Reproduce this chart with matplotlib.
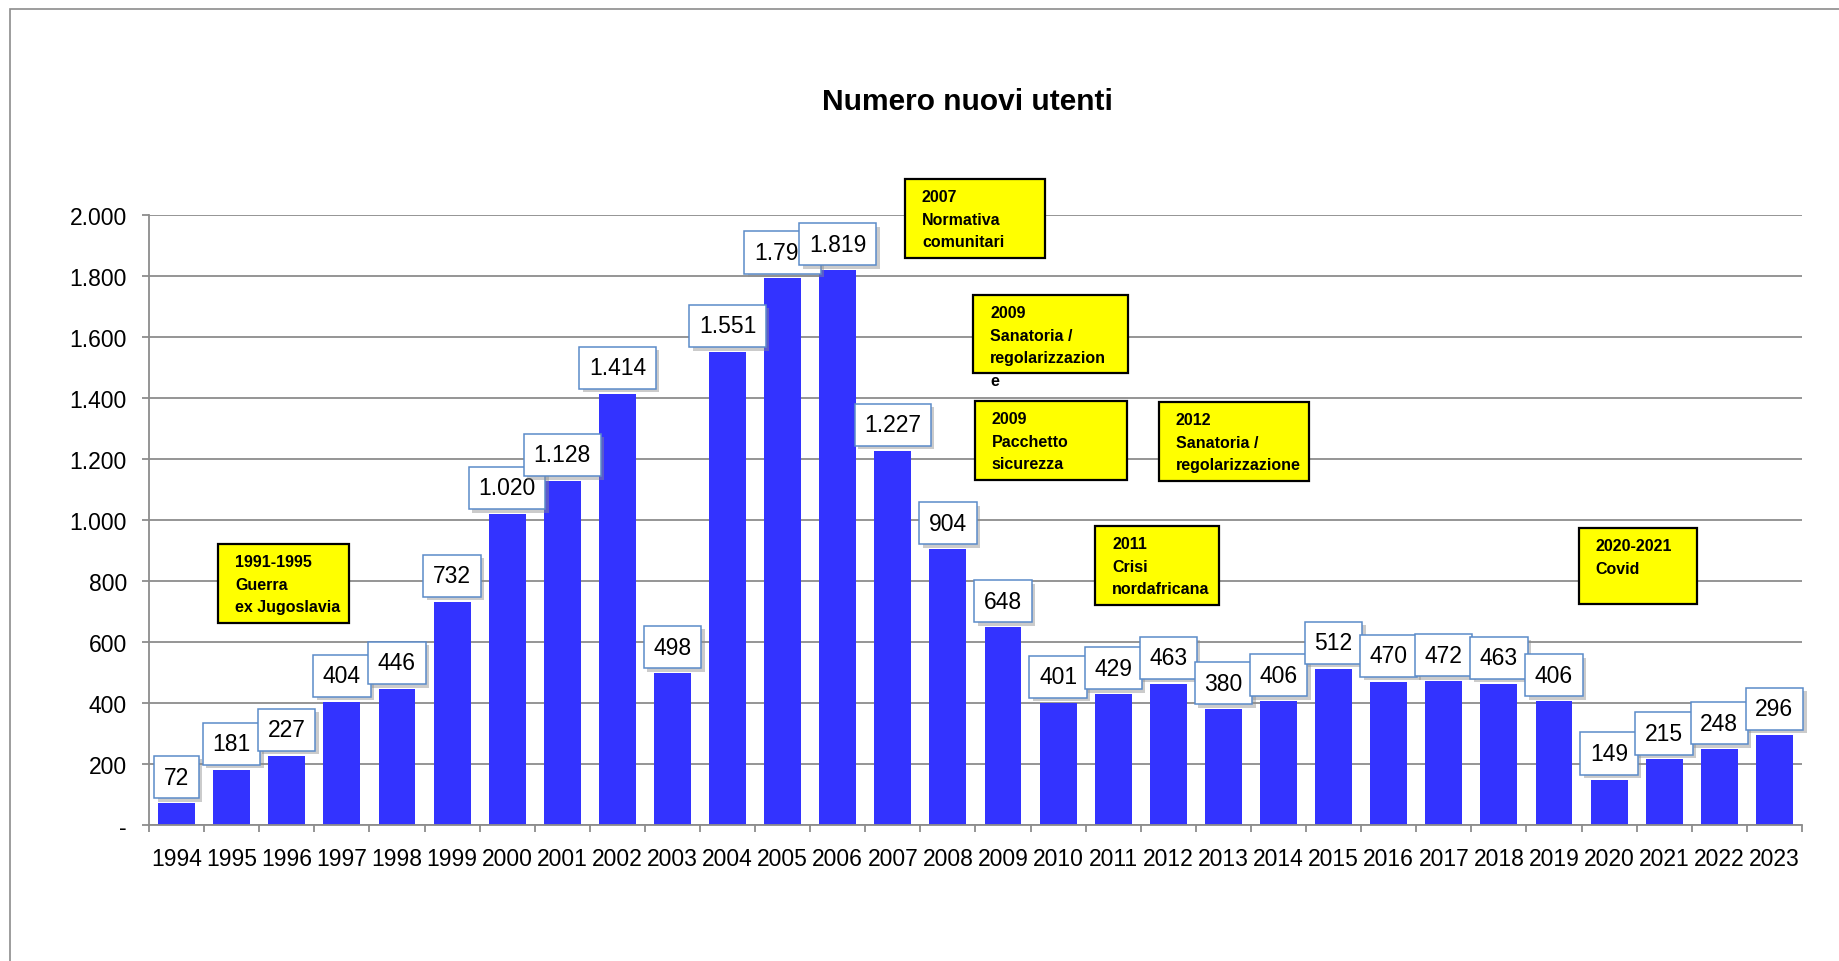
import matplotlib
matplotlib.use('Agg')
import matplotlib.pyplot as plt
import matplotlib.patheffects as pe
from matplotlib import font_manager
from matplotlib.patches import Rectangle
from matplotlib.ticker import FuncFormatter, FixedLocator

# data
anni = [1994, 1995, 1996, 1997, 1998, 1999, 2000, 2001, 2002, 2003,
        2004, 2005, 2006, 2007, 2008, 2009, 2010, 2011, 2012, 2013,
        2014, 2015, 2016, 2017, 2018, 2019, 2020, 2021, 2022, 2023]
nuovi_utenti = [72, 181, 227, 404, 446, 732, 1020, 1128, 1414, 498,
                1551, 1792, 1819, 1227, 904, 648, 401, 429, 463, 380,
                406, 512, 470, 472, 463, 406, 149, 215, 248, 296]

# note boxes: text, (x0, x1) in bar positions, (y bottom, y top) in values
note_testi = ["1991-1995\nGuerra\nex Jugoslavia",
              "2007\nNormativa\ncomunitari",
              "2009\nSanatoria /\nregolarizzazion\ne",
              "2009\nPacchetto\nsicurezza",
              "2011\nCrisi\nnordafricana",
              "2012\nSanatoria /\nregolarizzazione",
              "2020-2021\nCovid"]
note_x = [(0.75, 3.13), (13.22, 15.76), (14.46, 17.27), (14.49, 17.25),
          (16.67, 18.92), (17.83, 20.55), (25.45, 27.59)]
note_y = [(662, 921), (1859, 2118), (1482, 1738), (1131, 1390),
          (721, 980), (1128, 1387), (725, 974)]

names = {f.name for f in font_manager.fontManager.ttflist}
if 'Liberation Sans Narrow' in names:
    note_font, note_size, note_ls = 'Liberation Sans Narrow', 13.5, 1.35
else:
    note_font, note_size, note_ls = 'Liberation Sans', 11.5, 1.63

plt.rcParams['font.family'] = ['Liberation Sans', 'DejaVu Sans']

fig = plt.figure(figsize=(18.4, 9.62), dpi=100)
ax = fig.add_axes([0.081, 0.1414, 0.8983, 0.634])

x = list(range(len(anni)))
ax.bar(x, nuovi_utenti, width=0.67, color='#3333FF', zorder=2)

ax.set_xlim(-0.5, len(anni) - 0.5)
ax.set_ylim(0, 2000)
ax.set_yticks(range(0, 2001, 200))
ax.yaxis.set_major_formatter(FuncFormatter(
    lambda v, p: '-' if v == 0 else f"{int(v):,}".replace(',', '.')))
ax.set_xticks(x)
ax.set_xticklabels([str(a) for a in anni])
ax.xaxis.set_minor_locator(FixedLocator([i - 0.5 for i in range(len(anni) + 1)]))

grigio = '#8C8C8C'
ax.grid(axis='y', color=grigio, linewidth=1.3, zorder=0)
ax.set_axisbelow(True)
for s in ['top', 'right']:
    ax.spines[s].set_visible(False)
for s in ['left', 'bottom']:
    ax.spines[s].set_color(grigio)
    ax.spines[s].set_linewidth(1.3)
ax.tick_params(axis='y', length=5, width=1.3, color=grigio, labelsize=16.5, pad=11)
ax.tick_params(axis='x', which='major', length=0, labelsize=16.5, pad=16)
ax.tick_params(axis='x', which='minor', length=5, width=1.3, color=grigio)

# value labels
for xi, v in zip(x, nuovi_utenti):
    t = ax.annotate(f"{v:,}".replace(',', '.'), xy=(xi, v), xytext=(0, 26),
                    textcoords='offset pixels', ha='center', va='center',
                    fontsize=16.5, zorder=4,
                    bbox=dict(boxstyle='square,pad=0.42', fc='white',
                              ec='#5B8BC9', lw=1.1))
    t.get_bbox_patch().set_path_effects([
        pe.SimplePatchShadow(offset=(2.5, -2.5), shadow_rgbFace='0.55', alpha=0.45),
        pe.Normal()])

# yellow notes
for testo, (x0, x1), (y0, y1) in zip(note_testi, note_x, note_y):
    ax.add_patch(Rectangle((x0, y0), x1 - x0, y1 - y0, fc='#FFFF00', ec='black',
                           lw=1.6, zorder=5, clip_on=False))
    ax.annotate(testo, xy=(x0, y1), xytext=(17, -10), textcoords='offset pixels',
                ha='left', va='top', family=note_font, fontsize=note_size,
                fontweight='bold', linespacing=note_ls, zorder=6,
                annotation_clip=False)

fig.text(0.5258, 0.894, 'Numero nuovi utenti', ha='center', va='center',
         fontsize=21.5, fontweight='bold')

# outer frame
fig.add_artist(Rectangle((0.0052, -0.5), 2, 1.4896, transform=fig.transFigure,
                         fill=False, ec='#8C8C8C', lw=1.2))

fig.savefig('out.png', dpi=100)
